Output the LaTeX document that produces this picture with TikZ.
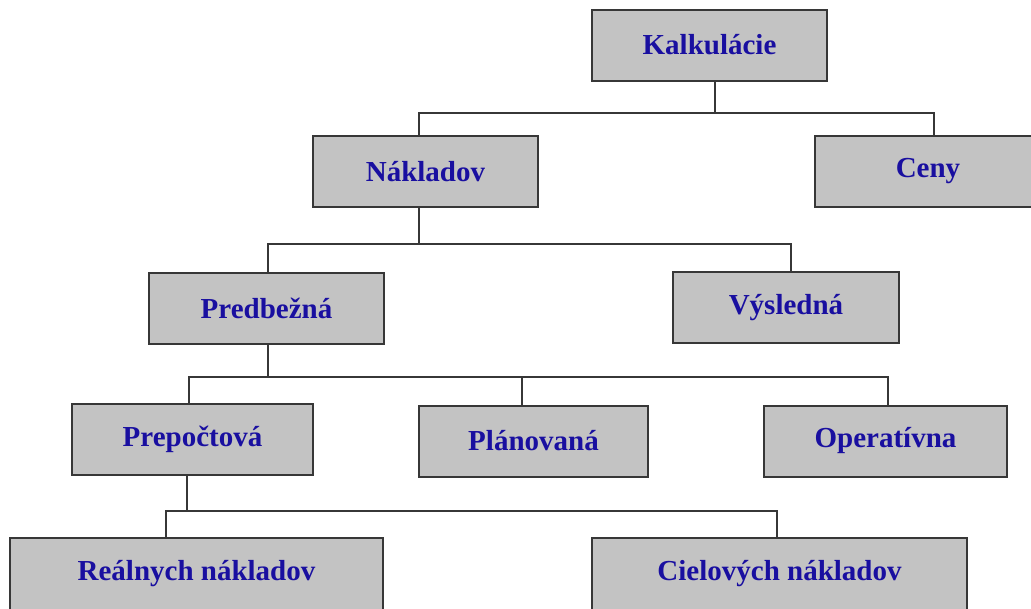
\documentclass[tikz,border=0pt]{standalone}
\usepackage{fontspec}
\setmainfont{Liberation Serif}
\usepackage{tikz}

\definecolor{boxgray}{RGB}{195,195,195}
\definecolor{edgegray}{RGB}{55,55,55}
\definecolor{labelblue}{RGB}{25,15,160}

\tikzset{
  kalkbox/.style={draw=edgegray, fill=boxgray, line width=2pt, inner sep=0pt, outer sep=0pt,
    text=labelblue, font=\fontsize{29pt}{34pt}\selectfont\bfseries,
    minimum height=71pt},
  bus/.style={draw=edgegray, line width=2pt}
}

\begin{document}
\begin{tikzpicture}[x=1pt, y=-1pt]
\useasboundingbox (0,0) rectangle (1031,608);
\clip (0,0) rectangle (1031,608);
\node[kalkbox, minimum width=235pt] (kalk) at (709.5,45) {Kalkulácie};
\node[kalkbox, minimum width=225pt] (nakl) at (425.5,171.5) {Nákladov};
\node[kalkbox, minimum width=226pt] (ceny) at (928,171.5) {Ceny};
\node[kalkbox, minimum width=235pt] (pred) at (266.5,308) {Predbežná};
\node[kalkbox, minimum width=226pt] (vysl) at (786,307.5) {Výsledná};
\node[kalkbox, minimum width=241pt] (prep) at (192.5,439.5) {Prepočtová};
\node[kalkbox, minimum width=229pt] (plan) at (533.5,441) {Plánovaná};
\node[kalkbox, minimum width=243pt] (oper) at (885.5,441) {Operatívna};
\node[kalkbox, minimum width=373pt, minimum height=72pt] (real) at (196.5,574) {Reálnych nákladov};
\node[kalkbox, minimum width=375pt, minimum height=72pt] (ciel) at (779.5,574) {Cielových nákladov};

\draw[bus] ([xshift=5.5pt]kalk.south) -- ++(0,32) coordinate (kalkbus);
\draw[bus] ([xshift=-6.5pt]nakl.north) |- (kalkbus) -| ([xshift=6pt]ceny.north);
\draw[bus] ([xshift=-6.5pt]nakl.south) -- ++(0,37) coordinate (naklbus);
\draw[bus] ([xshift=1.5pt]pred.north) |- (naklbus) -| ([xshift=5pt]vysl.north);
\draw[bus] ([xshift=1.5pt]pred.south) -- ++(0,33) coordinate (predbus);
\draw[bus] ([xshift=-3.5pt]prep.north) |- (predbus) -| ([xshift=2.5pt]oper.north);
\draw[bus] ([xshift=-11.5pt]plan.north) -- ([xshift=-11.5pt]plan.north |- predbus);
\draw[bus] ([xshift=-5.5pt]prep.south) -- ++(0,36) coordinate (prepbus);
\draw[bus] ([xshift=-30.5pt]real.north) |- (prepbus) -| ([xshift=-2.5pt]ciel.north);
\end{tikzpicture}
\end{document}
